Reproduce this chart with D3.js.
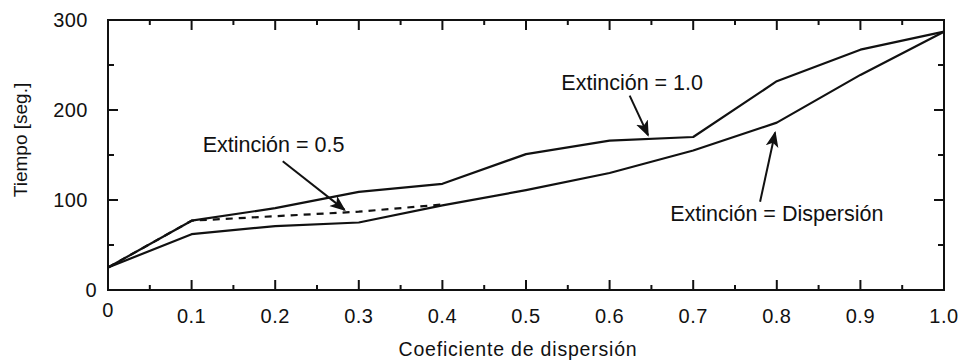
<!DOCTYPE html>
<html>
<head>
<meta charset="utf-8">
<script src="https://cdn.jsdelivr.net/npm/d3@7"></script>
<style>
  body { margin: 0; background: #fff; }
  text { font-family: "Liberation Sans", Arial, sans-serif; fill: #111; }
</style>
</head>
<body>
<svg id="chart" width="960" height="362"></svg>
<script>
// coeficiente de dispersion (x)
const coef = [0, 0.1, 0.2, 0.3, 0.4, 0.5, 0.6, 0.7, 0.8, 0.9, 1.0];
// tiempo [seg.] per curve
const ext10 = [25, 77, 91, 109, 118, 151, 166, 170, 232, 267, 287];
const extDisp = [25, 62, 71, 75, 94, 111, 130, 155, 186, 239, 287];
const ext05 = [25, 77, 82, 87, 95];

const xTicks = [0, 0.1, 0.2, 0.3, 0.4, 0.5, 0.6, 0.7, 0.8, 0.9, 1.0];
const xTickLabels = ["0", "0.1", "0.2", "0.3", "0.4", "0.5", "0.6", "0.7", "0.8", "0.9", "1.0"];
const yTicks = [0, 100, 200, 300];

// annotation: label, text pos, arrow from, arrow to (data units)
const notes = [
  { label: "Extinción = 0.5", tx: 0.198, ty: 153, x0: 0.209, y0: 143, x1: 0.283, y1: 89 },
  { label: "Extinción = 1.0", tx: 0.627, ty: 222, x0: 0.624, y0: 216, x1: 0.646, y1: 172 },
  { label: "Extinción = Dispersión", tx: 0.800, ty: 77, x0: 0.780, y0: 98, x1: 0.798, y1: 175 }
];

const svg = d3.select("#chart");
const m = { left: 108, right: 16, top: 20, bottom: 72 };
const W = 960, H = 362;

const x = d3.scaleLinear().domain([0, 1]).range([m.left, W - m.right]);
const y = d3.scaleLinear().domain([0, 300]).range([H - m.bottom, m.top]);

svg.append("defs").append("marker")
  .attr("id", "arrow")
  .attr("viewBox", "0 0 10 10")
  .attr("refX", 9).attr("refY", 5)
  .attr("markerWidth", 8).attr("markerHeight", 8)
  .attr("markerUnits", "strokeWidth")
  .attr("orient", "auto")
  .append("path").attr("d", "M0,1 L10,5 L0,9 L2.5,5 Z").attr("fill", "#111");

// ticks, inward on all four sides
const g = svg.append("g");
const majorX = xTicks, minorX = d3.range(0.05, 1, 0.1);
const majorY = yTicks, minorY = [50, 150, 250];

majorX.forEach((t) => {
  g.append("line").attr("x1", x(t)).attr("x2", x(t)).attr("y1", y(0)).attr("y2", y(0) - 10);
  g.append("line").attr("x1", x(t)).attr("x2", x(t)).attr("y1", y(300)).attr("y2", y(300) + 10);
});
minorX.forEach((t) => {
  g.append("line").attr("x1", x(t)).attr("x2", x(t)).attr("y1", y(0)).attr("y2", y(0) - 5);
  g.append("line").attr("x1", x(t)).attr("x2", x(t)).attr("y1", y(300)).attr("y2", y(300) + 5);
});
majorY.forEach((t) => {
  g.append("line").attr("y1", y(t)).attr("y2", y(t)).attr("x1", x(0)).attr("x2", x(0) + 10);
  g.append("line").attr("y1", y(t)).attr("y2", y(t)).attr("x1", x(1)).attr("x2", x(1) - 10);
});
minorY.forEach((t) => {
  g.append("line").attr("y1", y(t)).attr("y2", y(t)).attr("x1", x(0)).attr("x2", x(0) + 6);
  g.append("line").attr("y1", y(t)).attr("y2", y(t)).attr("x1", x(1)).attr("x2", x(1) - 6);
});
g.selectAll("line").attr("stroke", "#111").attr("stroke-width", 2);

// frame
svg.append("rect")
  .attr("x", x(0)).attr("y", y(300))
  .attr("width", x(1) - x(0)).attr("height", y(0) - y(300))
  .attr("fill", "none").attr("stroke", "#111").attr("stroke-width", 2);

// tick labels
svg.selectAll(".xl").data(xTicks).enter().append("text")
  .attr("x", (d) => x(d)).attr("y", (d, i) => i === 0 ? y(0) + 27 : y(0) + 33)
  .attr("text-anchor", "middle").attr("font-size", 20)
  .attr("letter-spacing", 0.5)
  .text((d, i) => xTickLabels[i]);

svg.selectAll(".yl").data(yTicks).enter().append("text")
  .attr("x", (d) => d === 0 ? x(0) - 11 : x(0) - 20).attr("y", (d) => y(d) + 7)
  .attr("text-anchor", "end").attr("font-size", 20)
  .attr("letter-spacing", 0.5)
  .text((d) => d);

// axis titles
svg.append("text").attr("x", (x(0) + x(1)) / 2 - 8).attr("y", 356)
  .attr("text-anchor", "middle").attr("font-size", 19.5)
  .attr("letter-spacing", 0.8)
  .text("Coeficiente de dispersión");
svg.append("text")
  .attr("transform", "translate(27,140) rotate(-90)")
  .attr("text-anchor", "middle").attr("font-size", 19)
  .text("Tiempo [seg.]");

// curves
const line = d3.line().x((d) => x(d[0])).y((d) => y(d[1]));
const curves = [
  { vals: ext10, dash: null },
  { vals: extDisp, dash: null },
  { vals: ext05, dash: "7,6" }
];
curves.forEach((c) => {
  svg.append("path")
    .datum(c.vals.map((v, i) => [coef[i], v]))
    .attr("d", line)
    .attr("fill", "none")
    .attr("stroke", "#111")
    .attr("stroke-width", 2.2)
    .attr("stroke-linejoin", "round")
    .attr("stroke-dasharray", c.dash);
});

// annotations
notes.forEach((n) => {
  svg.append("text").attr("x", x(n.tx)).attr("y", y(n.ty))
    .attr("text-anchor", "middle").attr("font-size", 21.5).text(n.label);
  svg.append("line")
    .attr("x1", x(n.x0)).attr("y1", y(n.y0))
    .attr("x2", x(n.x1)).attr("y2", y(n.y1))
    .attr("stroke", "#111").attr("stroke-width", 2)
    .attr("marker-end", "url(#arrow)");
});
</script>
</body>
</html>
